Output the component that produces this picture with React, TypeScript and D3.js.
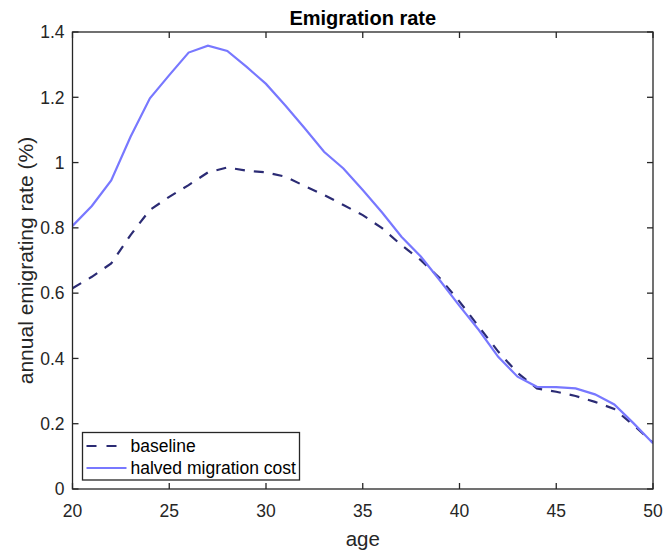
import React from "react";
import * as d3 from "d3";

const ages = [20, 21, 22, 23, 24, 25, 26, 27, 28, 29, 30, 31, 32, 33, 34, 35, 36, 37, 38, 39, 40, 41, 42, 43, 44, 45, 46, 47, 48, 49, 50];
const baseline = [0.615, 0.650, 0.691, 0.778, 0.855, 0.895, 0.931, 0.970, 0.985, 0.975, 0.970, 0.957, 0.928, 0.901, 0.870, 0.839, 0.799, 0.747, 0.701, 0.645, 0.574, 0.497, 0.421, 0.356, 0.308, 0.298, 0.285, 0.267, 0.245, 0.195, 0.142];
const halved = [0.806, 0.867, 0.945, 1.079, 1.197, 1.268, 1.337, 1.358, 1.342, 1.293, 1.241, 1.175, 1.105, 1.033, 0.982, 0.916, 0.847, 0.773, 0.712, 0.638, 0.561, 0.487, 0.405, 0.344, 0.313, 0.312, 0.308, 0.290, 0.259, 0.201, 0.140];
const xTicks = [20, 25, 30, 35, 40, 45, 50];
const yTicks = [0, 0.2, 0.4, 0.6, 0.8, 1, 1.2, 1.4];
const seriesNames = ["baseline", "halved migration cost"];

const W = 667, H = 556;
const L = 72.5, R = 653, T = 32, B = 489;
const AX = "#262626";
const FONT = "'Liberation Sans', Arial, Helvetica, sans-serif";
const C_BASE = "#2b2b74";
const C_HALF = "#7878ff";
const DASH = "10,9";

export default function App() {
  const x = d3.scaleLinear().domain([20, 50]).range([L, R]);
  const y = d3.scaleLinear().domain([0, 1.4]).range([B, T]);
  const line = d3.line<number>().x((_, i) => x(ages[i])).y((v) => y(v));
  const tl = 6;
  const lgX = 82.5, lgY = 432.5, lgW = 217, lgH = 47.5;
  const rows = [lgY + 13.5, lgY + 35.5];
  return (
    <div style={{ position: "absolute", left: 0, top: 0 }}>
      <svg width={W} height={H} style={{ display: "block", background: "#fff" }} fontFamily={FONT}>
        <rect x={0} y={0} width={W} height={H} fill="#fff" />
        <defs>
          <clipPath id="plot">
            <rect x={L} y={T} width={R - L} height={B - T} />
          </clipPath>
        </defs>
        <g clipPath="url(#plot)" fill="none">
          <path d={line(baseline) || ""} stroke={C_BASE} strokeWidth={2.2} strokeDasharray={DASH} />
          <path d={line(halved) || ""} stroke={C_HALF} strokeWidth={2.2} />
        </g>
        <rect x={L} y={T} width={R - L} height={B - T} fill="none" stroke={AX} strokeWidth={1.3} />
        {xTicks.map((t) => (
          <g key={"x" + t}>
            <line x1={x(t)} x2={x(t)} y1={B} y2={B - tl} stroke={AX} strokeWidth={1.3} />
            <line x1={x(t)} x2={x(t)} y1={T} y2={T + tl} stroke={AX} strokeWidth={1.3} />
            <text x={x(t)} y={517} textAnchor="middle" fontSize={17.5} fill={AX}>{t}</text>
          </g>
        ))}
        {yTicks.map((t) => (
          <g key={"y" + t}>
            <line x1={L} x2={L + tl} y1={y(t)} y2={y(t)} stroke={AX} strokeWidth={1.3} />
            <line x1={R} x2={R - tl} y1={y(t)} y2={y(t)} stroke={AX} strokeWidth={1.3} />
            <text x={64.5} y={y(t) + 6.3} textAnchor="end" fontSize={17.5} fill={AX}>{d3.format("~g")(t)}</text>
          </g>
        ))}
        <text x={(L + R) / 2} y={25} textAnchor="middle" fontSize={20} fontWeight="bold" fill="#000">Emigration rate</text>
        <text x={(L + R) / 2} y={546} textAnchor="middle" fontSize={20.5} fill={AX}>age</text>
        <text transform={`translate(32.5,${(T + B) / 2}) rotate(-90)`} textAnchor="middle" fontSize={21} fill={AX}>annual emigrating rate (%)</text>
        <rect x={lgX} y={lgY} width={lgW} height={lgH} fill="#fff" stroke={AX} strokeWidth={1.3} />
        <line x1={lgX + 4} x2={lgX + 44} y1={rows[0]} y2={rows[0]} stroke={C_BASE} strokeWidth={2.2} strokeDasharray="10,10" />
        <line x1={lgX + 4} x2={lgX + 44} y1={rows[1]} y2={rows[1]} stroke={C_HALF} strokeWidth={2.2} />
        <text x={lgX + 48} y={rows[0] + 6} fontSize={17.5} fill="#000">{seriesNames[0]}</text>
        <text x={lgX + 48} y={rows[1] + 6} fontSize={17.5} fill="#000">{seriesNames[1]}</text>
      </svg>
    </div>
  );
}
